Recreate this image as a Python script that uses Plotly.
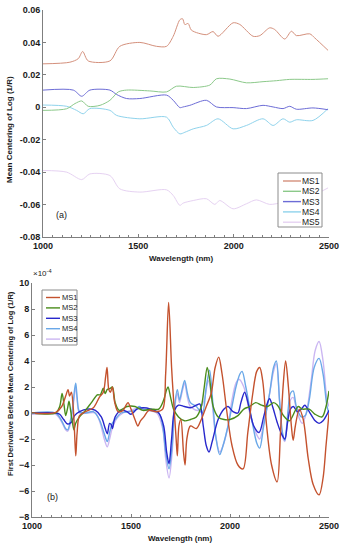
import plotly.graph_objects as go

W, H = 345, 550

series_names = ["MS1", "MS2", "MS3", "MS4", "MS5"]
top_colors = ["#d4907c", "#8cc98a", "#6c6cd6", "#8fd3ec", "#e6d2f2"]
bottom_colors = ["#c4522e", "#4a8c1c", "#2828cc", "#6aa8e8", "#cbb6f2"]

# ---------------- (a) Mean centering of log(1/R) ----------------
a_ms1_wl = [1000, 1141, 1185, 1208, 1237, 1351, 1403, 1508, 1595, 1648, 1683, 1718, 1732, 1744, 1761, 1779,
            1857, 1892, 1918, 1997, 2032, 2102, 2137, 2189, 2215, 2268, 2303, 2329, 2399, 2425, 2495]
a_ms1 = [0.0268, 0.0278, 0.030, 0.0344, 0.0286, 0.0286, 0.0376, 0.0400, 0.0376, 0.0376, 0.0438, 0.0540, 0.0546,
         0.0510, 0.0517, 0.0475, 0.0448, 0.0467, 0.0438, 0.0521, 0.0511, 0.0438, 0.0442, 0.0490, 0.0480, 0.0421,
         0.0469, 0.0442, 0.0453, 0.0428, 0.0351]

a_ms2_wl = [1000, 1124, 1168, 1203, 1237, 1299, 1351, 1395, 1438, 1560, 1648, 1700, 1788, 1875, 1910, 1980,
            2067, 2154, 2224, 2294, 2416, 2495]
a_ms2 = [-0.0019, -0.0009, 0.0023, 0.0039, 0.0006, 0.0012, 0.0043, 0.0095, 0.0106, 0.0101, 0.0095, 0.0130,
         0.0122, 0.0137, 0.0176, 0.0174, 0.0151, 0.0158, 0.0164, 0.0172, 0.0172, 0.0176]

a_ms3_wl = [1000, 1159, 1203, 1246, 1351, 1386, 1438, 1508, 1648, 1683, 1718, 1735, 1770, 1857, 1910, 1997,
            2067, 2154, 2207, 2259, 2294, 2329, 2416, 2495]
a_ms3 = [0.0106, 0.0106, 0.0068, 0.0106, 0.0106, 0.0079, 0.0054, 0.0054, 0.0075, 0.0043, -0.0002, 0.0002,
         0.0012, 0.0043, 0.0002, -0.0002, -0.0008, 0.0012, 0.0002, -0.0008, 0.0006, -0.0012, -0.0004, -0.0015]

a_ms4_wl = [1000, 1124, 1176, 1211, 1246, 1351, 1386, 1508, 1648, 1683, 1718, 1744, 1788, 1857, 1918, 1997,
            2067, 2154, 2207, 2259, 2294, 2329, 2416, 2495]
a_ms4 = [0.0014, 0.0006, -0.0019, -0.0040, -0.0008, -0.0019, -0.0050, -0.0071, -0.0061, -0.0123, -0.0164,
         -0.0154, -0.0133, -0.0112, -0.0071, -0.0133, -0.0112, -0.0071, -0.0112, -0.0071, -0.0092, -0.0077,
         -0.0081, -0.0008]

a_ms5_wl = [1000, 1124, 1203, 1246, 1351, 1403, 1508, 1648, 1683, 1718, 1735, 1788, 1857, 1901, 1927, 1997,
            2067, 2119, 2189, 2259, 2346, 2451, 2495]
a_ms5 = [-0.0390, -0.0400, -0.0446, -0.0411, -0.0421, -0.0503, -0.0523, -0.0509, -0.0544, -0.0605, -0.0591,
         -0.0575, -0.0564, -0.0599, -0.0575, -0.0626, -0.0595, -0.0571, -0.0599, -0.0585, -0.0554, -0.0523,
         -0.0497]

a_ytick_vals = [-0.08, -0.06, -0.04, -0.02, 0, 0.02, 0.04, 0.06]
a_ytick_text = ["-0.08", "-0.06", "-0.04", "-0.02", "0", "0.02", "0.04", "0.06"]

# ---------------- (b) First derivative (x 1e-4) ----------------
b_ms1_wl = [1000, 1120, 1150, 1170, 1182, 1190, 1199, 1208, 1215, 1221, 1228, 1240, 1270, 1310, 1340, 1360,
            1372, 1379, 1388, 1396, 1406, 1418, 1435, 1460, 1475, 1485, 1500, 1520, 1535, 1548, 1565, 1590,
            1630, 1660, 1675, 1690, 1705, 1718, 1728, 1734, 1742, 1752, 1765, 1773, 1782, 1800, 1830, 1855,
            1880, 1905, 1925, 1943, 1960, 1985, 2010, 2040, 2066, 2090, 2115, 2135, 2150, 2165, 2185, 2210,
            2238, 2255, 2268, 2281, 2295, 2310, 2319, 2330, 2350, 2370, 2395, 2420, 2450, 2470, 2485, 2500]
b_ms1 = [0.0, 0.05, 0.5, 1.3, 1.8, 1.3, 1.6, 0.5, -1.5, -3.3, -1.5, -0.2, 0.1, 0.4, 1.2, 1.6,
         2.8, 3.5, 1.8, 1.6, 2.0, 0.8, 0.1, 0.2, 0.6, 0.8, 0.3, -0.5, -1.0, -0.6, -0.3, 0.2,
         0.1, 0.3, 3.0, 8.5, 3.5, 0.3, -2.0, -3.3, -1.0, -0.5, -3.0, -4.0, -2.0, -1.0, -1.2, -0.5,
         0.5, 1.5, 3.5, 4.3, 3.0, 0.0, -2.5, -4.0, -4.3, -1.5, 1.5, 3.2, 3.5, 2.5, -1.0, -4.0,
         -5.3, -1.5, 2.0, 4.0, 2.0, -1.0, -2.1, -1.0, 0.3, -0.5, -3.5, -5.5, -6.3, -5.0, -2.5, 0.0]

b_ms2_wl = [1000, 1120, 1140, 1152, 1162, 1170, 1180, 1187, 1195, 1205, 1212, 1220, 1240, 1270, 1300, 1330,
            1345, 1360, 1370, 1380, 1395, 1406, 1420, 1440, 1480, 1520, 1560, 1600, 1640, 1665, 1680, 1687,
            1700, 1715, 1740, 1770, 1800, 1830, 1855, 1870, 1885, 1898, 1915, 1940, 1970, 2000, 2040, 2070,
            2100, 2130, 2160, 2190, 2220, 2240, 2270, 2300, 2330, 2345, 2365, 2400, 2430, 2465, 2485, 2500]
b_ms2 = [0.0, 0.0, 0.5, 1.5, 0.6, -0.2, 0.4, 0.9, 0.2, -0.8, -1.3, -0.8, -0.3, 0.2, 0.8, 1.4,
         1.4, 1.9, 1.5, 1.8, 1.9, 2.0, 0.8, 0.2, 0.5, 0.5, 0.2, 0.3, 0.3, 1.0, 1.8, 2.0,
         1.2, 0.3, -0.3, -0.6, -0.5, -0.3, 0.5, 2.0, 3.5, 2.5, 0.5, -0.3, -0.5, -0.5, -0.2, 0.3,
         0.5, 0.8, 0.6, 0.5, 0.8, 0.6, -0.2, -0.6, 0.2, 0.5, 0.3, 0.3, -0.1, -0.3, 0.5, 1.7]

b_ms3_wl = [1000, 1120, 1140, 1160, 1180, 1200, 1215, 1240, 1280, 1320, 1350, 1370, 1380, 1392, 1400, 1406,
            1420, 1450, 1480, 1500, 1530, 1560, 1600, 1640, 1665, 1680, 1692, 1705, 1720, 1740, 1770, 1800,
            1830, 1847, 1865, 1880, 1894, 1910, 1940, 1970, 1990, 2015, 2040, 2055, 2074, 2095, 2120, 2147,
            2170, 2185, 2200, 2215, 2240, 2260, 2277, 2290, 2305, 2320, 2340, 2360, 2378, 2400, 2430, 2450,
            2470, 2490, 2500]
b_ms3 = [0.0, 0.0, -0.1, -0.5, -0.85, -0.7, -0.2, 0.1, 0.3, 0.2, -0.3, -1.2, -1.6, -0.8, -0.9, -1.2,
         -0.3, 0.2, 0.1, -0.1, 0.3, 0.4, 0.3, 0.0, -1.0, -3.0, -3.9, -2.0, 0.2, 0.6, 0.5, 0.4,
         0.6, 0.7, -1.0, -2.5, -3.0, -2.2, -0.5, 0.3, 0.5, 0.1, 0.0, 0.8, 1.6, 0.5, -1.0, -1.5,
         -0.3, 0.6, 1.1, 0.5, -0.8, -1.6, -2.0, -0.8, 0.3, 0.5, 0.1, 0.3, 0.6, 0.1, -0.6, -0.8,
         -0.6, -0.1, 0.2]

b_ms4_wl = [1000, 1120, 1150, 1170, 1180, 1195, 1208, 1215, 1221, 1228, 1240, 1270, 1310, 1340, 1365, 1380,
            1392, 1405, 1420, 1450, 1490, 1520, 1541, 1560, 1600, 1640, 1660, 1675, 1692, 1708, 1720, 1734,
            1745, 1758, 1771, 1785, 1800, 1830, 1860, 1880, 1897, 1912, 1930, 1948, 1965, 1990, 2010, 2030,
            2050, 2061, 2080, 2110, 2135, 2150, 2170, 2200, 2220, 2234, 2250, 2265, 2277, 2292, 2305, 2319,
            2335, 2360, 2380, 2400, 2425, 2450, 2470, 2490, 2500]
b_ms4 = [0.0, 0.0, -0.6, -1.2, -1.3, -0.5, 0.8, 1.8, 2.3, 1.2, 0.1, 0.0, 0.1, -0.5, -1.6, -2.2,
         -1.5, -0.8, -0.5, 0.0, 0.1, 0.2, 0.5, 0.3, 0.2, 0.0, -1.0, -3.0, -4.3, -2.5, 0.5, 1.8,
         1.0, 1.8, 2.5, 1.5, 0.8, 0.5, 0.0, 2.0, 3.3, 1.0, -2.0, -3.2, -2.5, -1.0, 0.5, 2.0,
         3.0, 3.2, 2.0, -0.5, -2.3, -2.7, -1.0, 1.5, 3.5, 4.0, 1.0, -1.5, -2.1, 0.0, 1.5, 1.7,
         0.5, -0.3, -0.2, 1.0, 3.5, 4.2, 3.0, 0.5, 0.0]

b_ms5_wl = [1000, 1120, 1150, 1170, 1180, 1195, 1208, 1215, 1221, 1228, 1240, 1280, 1320, 1345, 1365, 1380,
            1392, 1405, 1430, 1460, 1500, 1541, 1580, 1630, 1660, 1675, 1692, 1708, 1720, 1734, 1745, 1758,
            1771, 1785, 1800, 1840, 1870, 1890, 1905, 1925, 1948, 1965, 1990, 2010, 2030, 2045, 2070, 2100,
            2130, 2150, 2170, 2200, 2220, 2234, 2250, 2265, 2277, 2292, 2305, 2319, 2340, 2365, 2385, 2410,
            2430, 2450, 2470, 2490, 2500]
b_ms5 = [-0.1, -0.1, -0.7, -1.3, -1.4, -0.8, 0.5, 1.5, 2.0, 1.0, 0.0, 0.0, 0.0, -0.8, -2.0, -2.6,
         -2.0, -1.2, -0.4, 0.0, 0.2, 0.4, 0.2, 0.0, -1.2, -3.5, -5.0, -3.0, 0.2, 1.5, 0.8, 1.6,
         2.3, 1.2, 0.5, 0.2, 1.0, 2.5, 1.5, -1.5, -3.0, -2.5, -1.0, 1.0, 2.3, 2.6, 2.0, 0.0,
         -1.5, -2.0, -0.8, 1.5, 3.2, 3.8, 1.0, -1.8, -2.2, -0.3, 1.0, 1.2, 0.0, -0.8, 0.0, 2.5,
         4.8, 5.5, 4.0, 1.0, 0.5]

x_tick_vals = [1000, 1500, 2000, 2500]
b_ytick_vals = [-8, -6, -4, -2, 0, 2, 4, 6, 8, 10]

top_series = [(a_ms1_wl, a_ms1), (a_ms2_wl, a_ms2), (a_ms3_wl, a_ms3), (a_ms4_wl, a_ms4), (a_ms5_wl, a_ms5)]
bottom_series = [(b_ms1_wl, b_ms1), (b_ms2_wl, b_ms2), (b_ms3_wl, b_ms3), (b_ms4_wl, b_ms4), (b_ms5_wl, b_ms5)]


def px(x):
    return x / W


def py(y):
    return 1 - y / H


FONT = "Arial, Liberation Sans, sans-serif"
AXC = "#7f7f7f"
TXT = "#1a1a1a"

fig = go.Figure()

for i in reversed(range(5)):
    wl, vals = top_series[i]
    fig.add_trace(go.Scatter(x=wl, y=vals, mode="lines", name=series_names[i],
                             line=dict(color=top_colors[i], width=1, shape="spline", smoothing=0.8),
                             xaxis="x", yaxis="y", showlegend=False, hoverinfo="skip"))
for i in reversed(range(5)):
    wl, vals = bottom_series[i]
    fig.add_trace(go.Scatter(x=wl, y=vals, mode="lines", name=series_names[i],
                             line=dict(color=bottom_colors[i], width=1.4, shape="spline", smoothing=0.9),
                             xaxis="x2", yaxis="y2", showlegend=False, hoverinfo="skip"))

common_axis = dict(showline=True, linecolor=AXC, linewidth=1, ticks="inside", ticklen=3, tickcolor=AXC,
                   showgrid=False, zeroline=False, mirror=False, automargin=False,
                   tickfont=dict(family=FONT, size=9, color=TXT, weight="bold"))
xminor = dict(dtick=50, ticks="inside", ticklen=2, tickcolor=AXC)

fig.update_layout(
    width=W, height=H,
    margin=dict(l=0, r=0, t=0, b=0, autoexpand=False),
    paper_bgcolor="white", plot_bgcolor="white",
    showlegend=False,
    xaxis=dict(domain=[px(43), px(329)], anchor="y", range=[1000, 2500], tickvals=x_tick_vals,
               minor=xminor, **common_axis),
    yaxis=dict(domain=[py(237), py(10)], anchor="x", range=[-0.08, 0.06], tickvals=a_ytick_vals,
               ticktext=a_ytick_text, **common_axis),
    xaxis2=dict(domain=[px(32), px(329)], anchor="y2", range=[1000, 2500], tickvals=x_tick_vals,
                minor=xminor, **common_axis),
    yaxis2=dict(domain=[py(517), py(283)], anchor="x2", range=[-8, 10], tickvals=b_ytick_vals,
                **common_axis),
)

annots = []


def note(x, y, text, size, bold=False, angle=0, xanchor="center"):
    f = dict(family=FONT, size=size, color=TXT)
    if bold:
        f["weight"] = "bold"
    annots.append(dict(x=px(x), y=py(y), xref="paper", yref="paper", text=text, showarrow=False,
                       xanchor=xanchor, yanchor="middle", textangle=angle, font=f,
                       borderpad=0, borderwidth=0))


note(181, 258, "Wavelength (nm)", 8, bold=True)
note(180, 538, "Wavelength (nm)", 8, bold=True)
note(10, 130, "Mean Centering of Log (1/R)", 8, bold=True, angle=-90)
note(10, 384, "First Derivative Before Mean Centering of Log (1/R)", 7.6, bold=True, angle=-90)
note(61, 215, "(a)", 9)
note(52, 497, "(b)", 9)
note(33, 273, "×10<sup>-4</sup>", 8, xanchor="left")

shapes = []


def add_legend(box, row_y0, row_dy, line_x, text_x, colors, fsize):
    x0, y0, x1, y1 = box
    shapes.append(dict(type="rect", xref="paper", yref="paper", x0=px(x0), x1=px(x1), y0=py(y1), y1=py(y0),
                       line=dict(color="#8c8c8c", width=1), fillcolor="white", layer="above"))
    for k, name in enumerate(series_names):
        yy = row_y0 + k * row_dy
        shapes.append(dict(type="line", xref="paper", yref="paper", x0=px(line_x[0]), x1=px(line_x[1]),
                           y0=py(yy), y1=py(yy), line=dict(color=colors[k], width=1.4), layer="above"))
        note(text_x, yy, name, fsize, xanchor="left")


add_legend((278, 173, 322, 227), 181, 10.3, (283, 301), 302, top_colors, 8.5)
add_legend((42, 290, 77, 345), 297.5, 10.4, (46, 60), 61.5, bottom_colors, 7.5)

fig.update_layout(annotations=annots, shapes=shapes)

fig.write_html("out.html", config={"displayModeBar": False},
               post_script="document.body.style.margin='0';document.body.style.overflow='hidden';")
